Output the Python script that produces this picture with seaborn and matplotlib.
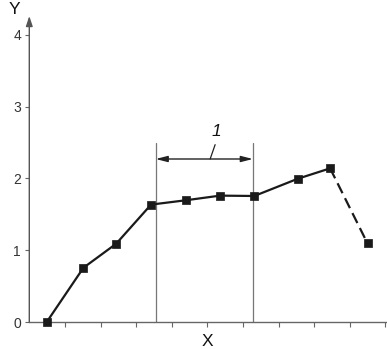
import matplotlib
matplotlib.use("Agg")
import matplotlib.pyplot as plt
import seaborn as sns
import pandas as pd

sns.set_style("white")
plt.rcParams['font.family'] = ['Liberation Sans', 'DejaVu Sans']

# Data
x_vals = [0.49, 1.52, 2.44, 3.42, 4.39, 5.36, 6.32, 7.54, 8.45, 9.50]
y_vals = [0.00, 0.755, 1.09, 1.635, 1.695, 1.76, 1.755, 1.995, 2.14, 1.095]
y_ticks = [0, 1, 2, 3, 4]
x_ticks = [1, 2, 3, 4, 5, 6, 7, 8, 9, 10]
region_bounds = [3.55, 6.28]
region_label = "1"

df = pd.DataFrame({"x": x_vals, "y": y_vals})
solid = df.iloc[:9]
dashed = df.iloc[8:]

W, H = 387, 349
fig = plt.figure(figsize=(W / 100, H / 100), dpi=100)
left_px, right_px = 29.3, 387.0
bottom_px, top_px = 322.0, 16.0
ax = fig.add_axes([left_px / W, (H - bottom_px) / H,
                   (right_px - left_px) / W, (bottom_px - top_px) / H])

line_c = "#1a1a1a"
sns.lineplot(data=solid, x="x", y="y", ax=ax, color=line_c, lw=1.6,
             sort=False, clip_on=False, zorder=4)
sns.lineplot(data=dashed, x="x", y="y", ax=ax, color=line_c, lw=1.6,
             sort=False, dashes=False, clip_on=False, zorder=4,
             linestyle=(0, (5, 2.5)))
sns.scatterplot(data=df, x="x", y="y", ax=ax, marker="s", s=34,
                color=line_c, edgecolor=line_c, linewidth=0.5,
                clip_on=False, zorder=5)

ax.set_xlim(0, (right_px - left_px) / 35.6)
ax.set_ylim(0, (bottom_px - top_px) / 71.8)

spine_c = "#666666"
for s in ["top", "right", "left"]:
    ax.spines[s].set_visible(False)
ax.spines["bottom"].set_color(spine_c)
ax.spines["bottom"].set_linewidth(1.0)

# y axis with arrow
ax.annotate("", xy=(0, 1.0), xycoords="axes fraction", xytext=(0, 0),
            textcoords="axes fraction",
            arrowprops=dict(arrowstyle="-|>,head_length=0.6,head_width=0.2",
                            color="#555555", lw=1.0, shrinkA=0, shrinkB=0))

ax.set_yticks(y_ticks)
ax.set_yticklabels([str(t) for t in y_ticks])
ax.set_xticks(x_ticks)
ax.set_xticklabels([])
ax.tick_params(axis="y", direction="out", length=3, width=0.8, color=spine_c,
               labelsize=10, labelcolor="#333333", pad=3, left=True)
ax.tick_params(axis="x", direction="out", length=3.5, width=0.8, color=spine_c,
               bottom=True)
ax.set_xlabel("")
ax.set_ylabel("")

fig.text(14 / W, 1 - 10 / H, "Y", fontsize=12.5, ha="center", va="center",
         color="#111111")
fig.text(207 / W, 1 - 341 / H, "X", fontsize=12.5, ha="center", va="center",
         color="#111111")

# region markers
top_y = (322 - 143) / 71.8
for xb in region_bounds:
    ax.plot([xb, xb], [0, top_y], color="#777777", lw=0.9, zorder=2)
arr_y = (322 - 159) / 71.8
ax.annotate("", xy=(region_bounds[0], arr_y), xytext=(region_bounds[1], arr_y),
            arrowprops=dict(arrowstyle="<|-|>,head_length=0.7,head_width=0.18",
                            color="#222222", lw=1.0, shrinkA=0, shrinkB=0))
ax.plot([5.08, 5.22], [arr_y, 2.47], color="#222222", lw=0.9)
ax.text(5.26, 2.66, region_label, fontsize=12.5, style="italic",
        ha="center", va="center", color="#111111")

fig.savefig("out.png", dpi=100)
